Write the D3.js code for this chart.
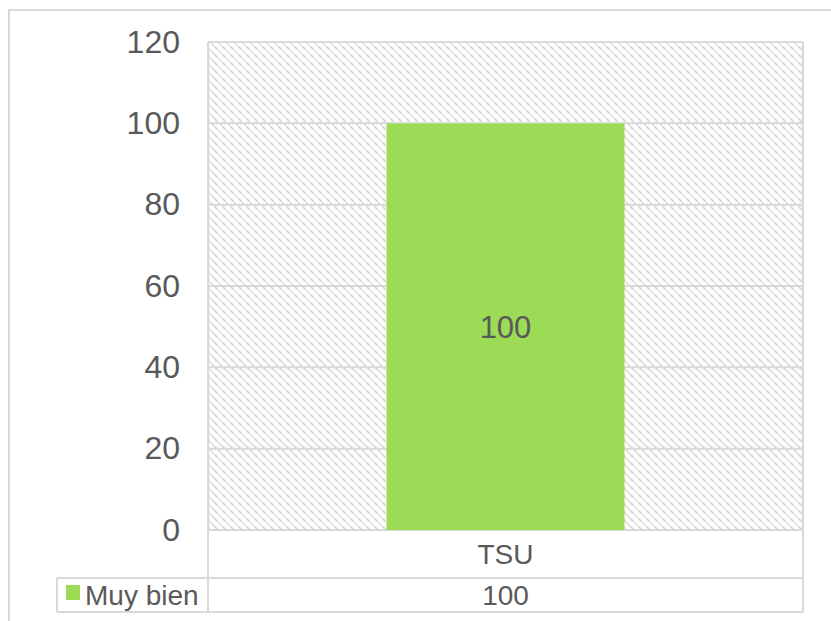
<!DOCTYPE html>
<html>
<head>
<meta charset="utf-8">
<script src="https://cdn.jsdelivr.net/npm/d3@7"></script>
<style>
  body { margin: 0; background: #fff; }
  text { font-family: "Liberation Sans", Arial, sans-serif; fill: #595959; }
</style>
</head>
<body>
<svg id="chart" width="831" height="621"></svg>
<script>
const categories = ["TSU"];
const series = "Muy bien";
const values = [100];
const yTicks = [0, 20, 40, 60, 80, 100, 120];

const svg = d3.select("#chart");
const plot = { left: 208, right: 803, top: 42, bottom: 530 };
const tableRow1 = 578, tableRow2 = 612, legendLeft = 57;
const gridColor = "#d9d9d9";

// outer chart frame (runs off the right and bottom edges)
svg.append("rect")
    .attr("x", 9).attr("y", 10)
    .attr("width", 900).attr("height", 700)
    .attr("fill", "none")
    .attr("stroke", gridColor)
    .attr("stroke-width", 2);

// dotted diagonal pattern for plot background
const pat = svg.append("defs").append("pattern")
    .attr("id", "dots")
    .attr("patternUnits", "userSpaceOnUse")
    .attr("width", 8).attr("height", 8);
[[0, 0], [2, 2], [4, 4], [6, 6], [6, 0], [0, 6]].forEach(p => {
  pat.append("rect")
    .attr("x", p[0]).attr("y", p[1])
    .attr("width", 2).attr("height", 2)
    .attr("fill", p[0] === p[1] ? "#d9d9d9" : "#efefef");
});

svg.append("rect")
    .attr("x", plot.left).attr("y", plot.top)
    .attr("width", plot.right - plot.left)
    .attr("height", plot.bottom - plot.top)
    .attr("fill", "url(#dots)");

const y = d3.scaleLinear().domain([0, 120]).range([plot.bottom, plot.top]);
const x = d3.scaleBand().domain(categories).range([plot.left, plot.right])
    .paddingInner(0.6).paddingOuter(0.3);

// gridlines
svg.append("g").selectAll("line")
  .data(yTicks)
  .enter().append("line")
    .attr("x1", plot.left).attr("x2", plot.right)
    .attr("y1", d => y(d)).attr("y2", d => y(d))
    .attr("stroke", gridColor).attr("stroke-width", 2);

// y axis labels
const yAxis = d3.axisLeft(y).tickValues(yTicks).tickSize(0).tickPadding(28);
const ya = svg.append("g").attr("transform", `translate(${plot.left},0)`).call(yAxis);
ya.select(".domain").remove();
ya.selectAll("text")
    .style("font-size", "32px")
    .style("font-family", "Liberation Sans, Arial, sans-serif")
    .attr("fill", "#595959");

// bars
svg.append("g").selectAll("rect")
  .data(values)
  .enter().append("rect")
    .attr("x", (d, i) => x(categories[i]))
    .attr("y", d => y(d))
    .attr("width", x.bandwidth())
    .attr("height", d => y(0) - y(d))
    .attr("fill", "#9bdb56");

svg.append("g").selectAll("text")
  .data(values)
  .enter().append("text")
    .attr("x", (d, i) => x(categories[i]) + x.bandwidth() / 2)
    .attr("y", d => (y(d) + y(0)) / 2)
    .attr("dy", "0.35em")
    .attr("text-anchor", "middle")
    .style("font-size", "31px")
    .text(d => d);

// data table lines
const tl = svg.append("g").attr("stroke", gridColor).attr("stroke-width", 2);
tl.append("line").attr("x1", plot.left).attr("x2", plot.left).attr("y1", plot.top).attr("y2", tableRow2);
tl.append("line").attr("x1", plot.right).attr("x2", plot.right).attr("y1", plot.top).attr("y2", tableRow2);
tl.append("line").attr("x1", legendLeft).attr("x2", plot.right).attr("y1", tableRow1).attr("y2", tableRow1);
tl.append("line").attr("x1", legendLeft).attr("x2", plot.right).attr("y1", tableRow2).attr("y2", tableRow2);
tl.append("line").attr("x1", legendLeft).attr("x2", legendLeft).attr("y1", tableRow1).attr("y2", tableRow2);

// category row
svg.append("g").selectAll("text")
  .data(categories)
  .enter().append("text")
    .attr("x", d => x(d) + x.bandwidth() / 2)
    .attr("y", (plot.bottom + tableRow1) / 2)
    .attr("dy", "0.35em")
    .attr("text-anchor", "middle")
    .style("font-size", "28px")
    .text(d => d);

// series row
svg.append("rect")
    .attr("x", 66).attr("y", 585)
    .attr("width", 14).attr("height", 15)
    .attr("fill", "#9bdb56");
svg.append("text")
    .attr("x", 85).attr("y", (tableRow1 + tableRow2) / 2)
    .attr("dy", "0.35em")
    .style("font-size", "28px")
    .text(series);
svg.append("g").selectAll("text")
  .data(values)
  .enter().append("text")
    .attr("x", (d, i) => x(categories[i]) + x.bandwidth() / 2)
    .attr("y", (tableRow1 + tableRow2) / 2)
    .attr("dy", "0.35em")
    .attr("text-anchor", "middle")
    .style("font-size", "28px")
    .text(d => d);
</script>
</body>
</html>
